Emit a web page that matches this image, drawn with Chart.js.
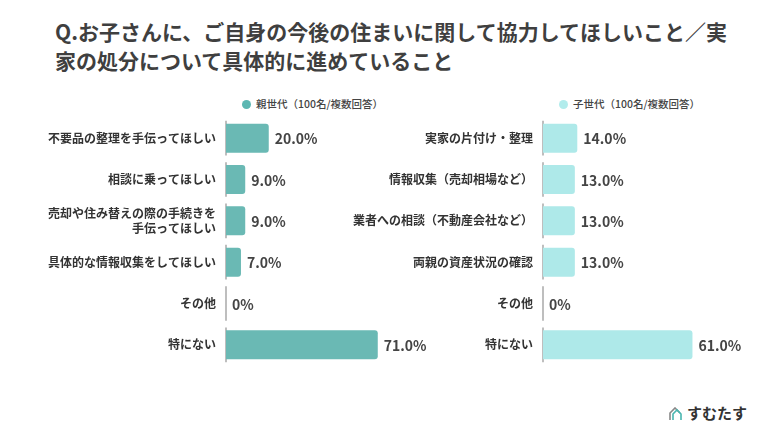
<!DOCTYPE html>
<html lang="ja">
<head>
<meta charset="utf-8">
<script src="https://cdn.jsdelivr.net/npm/chart.js@4/dist/chart.umd.min.js"></script>
<style>
  body { margin: 0; background: #fff; font-family: "Noto Sans CJK JP", sans-serif; }
  #wrap { position: relative; width: 770px; height: 434px; overflow: hidden; }
  .title { position: absolute; left: 55px; top: 17px; font-size: 21px; font-weight: 700; color: #3f3f3f; line-height: 29px; white-space: nowrap; }
  .legend { position: absolute; top: 96px; font-size: 10.5px; font-weight: 500; color: #444; white-space: nowrap; }
  .legend i { display: inline-block; width: 9px; height: 9px; border-radius: 50%; margin-right: 5px; vertical-align: -1px; }
  .box { position: absolute; top: 100px; height: 283px; }
  .logo { position: absolute; left: 669px; top: 402px; font-size: 15px; font-weight: 700; color: #333; white-space: nowrap; }
  .logo svg { vertical-align: -2px; margin-right: 2px; }
</style>
</head>
<body>
<div id="wrap">
  <div class="title">Q.お子さんに、ご自身の今後の住まいに関して協力してほしいこと／実<br>家の処分について具体的に進めていること</div>
  <div class="legend" style="left:242px"><i style="background:#5cb7b2"></i>親世代（100名/複数回答）</div>
  <div class="legend" style="left:559px"><i style="background:#b2ecec"></i>子世代（100名/複数回答）</div>
  <div class="box" style="left:0;width:440px"><canvas id="parentChart"></canvas></div>
  <div class="box" style="left:300px;width:470px"><canvas id="childChart"></canvas></div>
  <div class="logo"><svg width="16" height="14" viewBox="0 0 16 14"><path d="M1 13V6l5-5 5 5" fill="none" stroke="#888" stroke-width="1.6"/><path d="M4 13V7l4-4 4 4v6" fill="none" stroke="#49b6b0" stroke-width="1.6"/></svg>すむたす</div>
</div>
<script>
const parentLabels = [
  "不要品の整理を手伝ってほしい",
  "相談に乗ってほしい",
  ["売却や住み替えの際の手続きを", "手伝ってほしい"],
  "具体的な情報収集をしてほしい",
  "その他",
  "特にない"
];
const parentValues = [20, 9, 9, 7, 0, 71];

const childLabels = [
  "実家の片付け・整理",
  "情報収集（売却相場など）",
  "業者への相談（不動産会社など）",
  "両親の資産状況の確認",
  "その他",
  "特にない"
];
const childValues = [14, 13, 13, 13, 0, 61];

const fontFamily = '"Noto Sans CJK JP", sans-serif';

// value labels at the end of each bar
const valueLabels = {
  id: "valueLabels",
  afterDatasetsDraw(chart) {
    const ctx = chart.ctx;
    const meta = chart.getDatasetMeta(0);
    const data = chart.data.datasets[0].data;
    ctx.save();
    ctx.font = "700 14px " + fontFamily;
    ctx.fillStyle = "#444";
    ctx.textAlign = "left";
    ctx.textBaseline = "middle";
    meta.data.forEach((bar, i) => {
      const v = data[i];
      const txt = v === 0 ? "0%" : v.toFixed(1) + "%";
      ctx.fillText(txt, bar.x + 6, bar.y + 1);
    });
    ctx.restore();
  }
};

// axis line drawn in pieces, one per row
const axisPieces = {
  id: "axisPieces",
  beforeDatasetsDraw(chart) {
    const ctx = chart.ctx;
    const y = chart.scales.y;
    const x = chart.chartArea.left;
    const half = (y.getPixelForValue(1) - y.getPixelForValue(0)) * 0.42;
    ctx.save();
    ctx.strokeStyle = "#a8a8a8";
    ctx.lineWidth = 1.5;
    chart.data.labels.forEach((l, i) => {
      const c = y.getPixelForValue(i);
      ctx.beginPath();
      ctx.moveTo(x, c - half);
      ctx.lineTo(x, c + half);
      ctx.stroke();
    });
    ctx.restore();
  }
};

function makeChart(id, labels, values, color, axisWidth, padRight) {
  return new Chart(document.getElementById(id), {
    type: "bar",
    data: {
      labels: labels,
      datasets: [{
        data: values,
        backgroundColor: color,
        borderRadius: 3,
        barPercentage: 0.7,
        categoryPercentage: 1
      }]
    },
    options: {
      indexAxis: "y",
      responsive: true,
      maintainAspectRatio: false,
      animation: false,
      layout: { padding: { top: 0, bottom: 0, right: padRight, left: 0 } },
      plugins: { legend: { display: false }, tooltip: { enabled: false } },
      scales: {
        x: { display: false, min: 0, max: 80 },
        y: {
          afterFit(scale) { scale.width = axisWidth; },
          border: { display: false },
          grid: { display: false, drawTicks: false },
          ticks: {
            padding: 10,
            color: "#333",
            font: { family: fontFamily, size: 12, weight: "bold", lineHeight: 1.25 }
          }
        }
      }
    },
    plugins: [axisPieces, valueLabels]
  });
}

makeChart("parentChart", parentLabels, parentValues, "#6ab9b4", 226, 43);
makeChart("childChart", childLabels, childValues, "#aee9e9", 243, 31);
</script>
</body>
</html>
